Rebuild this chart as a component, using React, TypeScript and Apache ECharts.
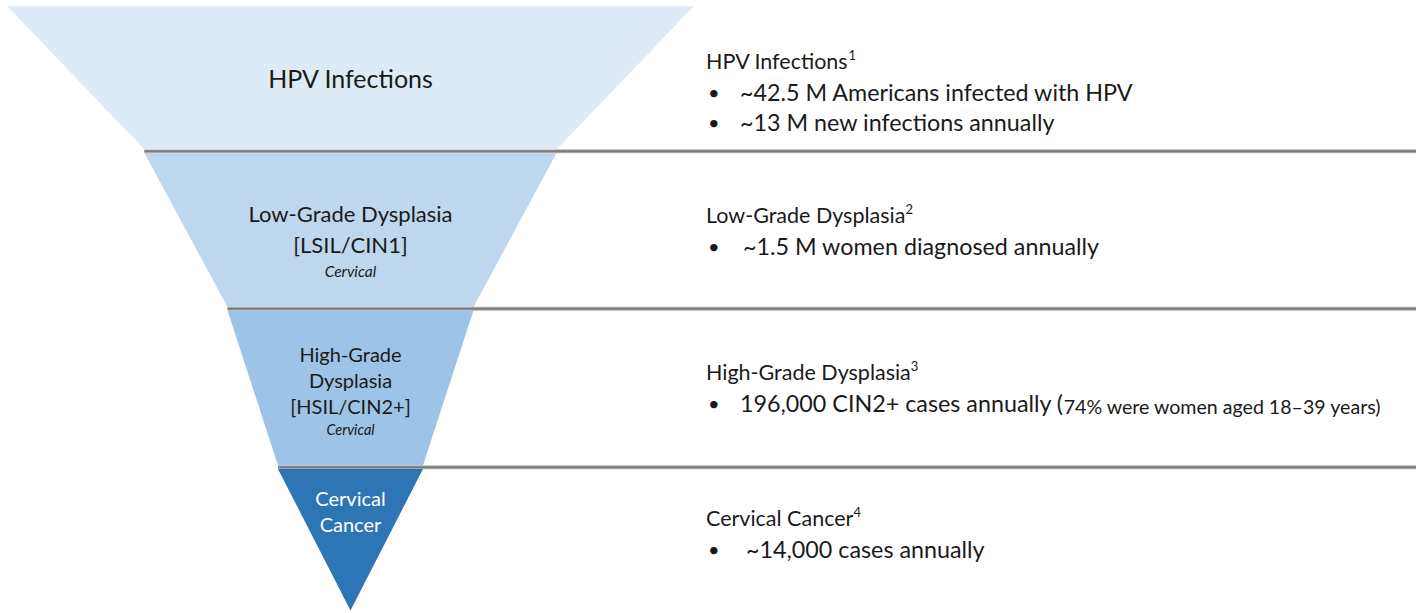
import React, { useEffect, useRef } from "react";
import * as echarts from "echarts";

// ---------- data ----------
const STAGE_NAMES = ["HPV Infections", "Low-Grade Dysplasia", "High-Grade Dysplasia", "Cervical Cancer"];
const STAGE_LABEL_LINES = [
  ["HPV Infections"],
  ["Low-Grade Dysplasia", "[LSIL/CIN1]"],
  ["High-Grade", "Dysplasia", "[HSIL/CIN2+]"],
  ["Cervical", "Cancer"],
];
const STAGE_SUBLABELS = ["", "Cervical", "Cervical", ""];
// relative width of each stage's top edge (top stage = 100)
const STAGE_WIDTHS = [100, 60, 35.8, 21.1];

const NOTE_TITLES = ["HPV Infections", "Low-Grade Dysplasia", "High-Grade Dysplasia", "Cervical Cancer"];
const NOTE_REFS = ["1", "2", "3", "4"];
const NOTE_BULLETS = [
  ["~42.5 M Americans infected with HPV", "~13 M new infections annually"],
  ["~1.5 M women diagnosed annually"],
  ["196,000 CIN2+ cases annually"],
  ["~14,000 cases annually"],
];
const NOTE_ASIDES = ["", "", "74% were women aged 18–39 years", ""];

// ---------- layout / style ----------
const FONT = "Lato, 'Noto Sans', sans-serif";
const TEXT_COLOR = "#1a1a1a";
const STAGE_COLORS = ["#DEEBF7", "#BDD7EE", "#9DC3E6", "#2E75B6"];
const STAGE_TEXT_COLORS = [TEXT_COLOR, TEXT_COLOR, TEXT_COLOR, "#ffffff"];
const STAGE_FONT_SIZES = [25, 22, 20, 20];
const STAGE_LINE_HEIGHTS = [30, 31, 26, 26];
const STAGE_SUB_LINE_HEIGHTS = [0, 23, 20, 0];
const STAGE_SUB_FONT_SIZES = [0, 15.5, 14.5, 0];
const STAGE_LABEL_PADDING = [
  [0, 0, 0, 0],
  [20, 0, 0, 0],
  [4, 0, 0, 0],
  [0, 0, 58, 0],
];
const FUNNEL = { cx: 350.5, top: 6, width: 687, heights: [143.5, 154, 155, 141.5], gap: 3.5 };
const LINE_RIGHT = 1416;

const NOTE_X = 706;
const NOTE_BULLET_X = 708;
const NOTE_TEXT_X = [740, 743, 740, 746];
const NOTE_TITLE_Y = [61, 215, 372, 518];
const NOTE_LINE_STEP = 30.5;
const NOTE_TITLE_FONT_SIZE = 21.5;
const NOTE_FONT_SIZE = 23.3;
const NOTE_ASIDE_FONT_SIZE = 19.6;

function buildStageData() {
  return STAGE_NAMES.map((name, i) => {
    const main = STAGE_LABEL_LINES[i].map((l) => `{m|${l}}`);
    if (STAGE_SUBLABELS[i]) main.push(`{i|${STAGE_SUBLABELS[i]}}`);
    return {
      name,
      value: STAGE_WIDTHS[i],
      itemStyle: { color: STAGE_COLORS[i], height: FUNNEL.heights[i] },
      label: {
        formatter: main.join("\n"),
        padding: STAGE_LABEL_PADDING[i],
        rich: {
          m: {
            fontFamily: FONT,
            fontSize: STAGE_FONT_SIZES[i],
            lineHeight: STAGE_LINE_HEIGHTS[i],
            color: STAGE_TEXT_COLORS[i],
            align: "center",
          },
          i: {
            fontFamily: FONT,
            fontSize: STAGE_SUB_FONT_SIZES[i] || 14,
            fontStyle: "italic",
            lineHeight: STAGE_SUB_LINE_HEIGHTS[i] || 20,
            color: STAGE_TEXT_COLORS[i],
            align: "center",
          },
        },
      },
    };
  });
}

function buildNotes() {
  const els: any[] = [];
  NOTE_TITLES.forEach((title, i) => {
    const y0 = NOTE_TITLE_Y[i];
    els.push({
      type: "text",
      x: NOTE_X,
      y: y0,
      silent: true,
      style: {
        text: `{h|${title}}{s|${NOTE_REFS[i]}}`,
        verticalAlign: "middle",
        align: "left",
        rich: {
          h: { fontFamily: FONT, fontSize: NOTE_TITLE_FONT_SIZE, lineHeight: 26, fill: TEXT_COLOR, color: TEXT_COLOR },
          s: { fontFamily: FONT, fontSize: 13, lineHeight: 16, verticalAlign: "top", fill: TEXT_COLOR, color: TEXT_COLOR },
        },
      },
    });
    NOTE_BULLETS[i].forEach((b, j) => {
      const y = y0 + NOTE_LINE_STEP * (j + 1);
      els.push({
        type: "text",
        x: NOTE_BULLET_X,
        y,
        silent: true,
        style: { text: "•", fontFamily: FONT, fontSize: 20, fill: TEXT_COLOR, verticalAlign: "middle", align: "left" },
      });
      const aside = j === NOTE_BULLETS[i].length - 1 ? NOTE_ASIDES[i] : "";
      const txt = aside ? `{t|${b} (}{a|${aside})}` : `{t|${b}}`;
      els.push({
        type: "text",
        x: NOTE_TEXT_X[i],
        y,
        silent: true,
        style: {
          text: txt,
          verticalAlign: "middle",
          align: "left",
          rich: {
            t: { fontFamily: FONT, fontSize: NOTE_FONT_SIZE, lineHeight: 28, fill: TEXT_COLOR, color: TEXT_COLOR },
            a: { fontFamily: FONT, fontSize: NOTE_ASIDE_FONT_SIZE, lineHeight: 24, verticalAlign: "bottom", fill: TEXT_COLOR, color: TEXT_COLOR },
          },
        },
      });
    });
  });
  return els;
}

function separatorLines(chart: any) {
  const pts: number[][][] = [];
  try {
    const data = chart.getModel().getSeriesByIndex(0).getData();
    for (let i = 0; i < STAGE_NAMES.length; i++) pts.push(data.getItemLayout(i).points);
  } catch (e) {
    let y = FUNNEL.top;
    for (let i = 0; i < STAGE_NAMES.length; i++) {
      const w0 = (STAGE_WIDTHS[i] / 100) * FUNNEL.width;
      const w1 = ((STAGE_WIDTHS[i + 1] || 0) / 100) * FUNNEL.width;
      const h = FUNNEL.heights[i];
      pts.push([
        [FUNNEL.cx - w0 / 2, y],
        [FUNNEL.cx + w0 / 2, y],
        [FUNNEL.cx + w1 / 2, y + h],
        [FUNNEL.cx - w1 / 2, y + h],
      ]);
      y += h + FUNNEL.gap;
    }
  }
  const els: any[] = [];
  for (let i = 0; i < pts.length - 1; i++) {
    const y = (pts[i][3][1] + pts[i + 1][0][1]) / 2;
    const x = pts[i + 1][0][0];
    els.push({
      type: "line",
      silent: true,
      shape: { x1: x, y1: y, x2: LINE_RIGHT, y2: y },
      style: { stroke: "#b4b4b4", lineWidth: 4 },
    });
    els.push({
      type: "line",
      silent: true,
      shape: { x1: x, y1: y, x2: LINE_RIGHT, y2: y },
      style: { stroke: "#7b7b7b", lineWidth: 2 },
    });
  }
  return els;
}

export default function App() {
  const ref = useRef<HTMLDivElement>(null);
  useEffect(() => {
    if (!ref.current) return;
    const chart = echarts.init(ref.current, undefined, { renderer: "svg" });
    const totalHeight =
      FUNNEL.heights.reduce((a, b) => a + b, 0) + FUNNEL.gap * (FUNNEL.heights.length - 1);
    chart.setOption({
      animation: false,
      backgroundColor: "#ffffff",
      series: [
        {
          type: "funnel",
          left: FUNNEL.cx - FUNNEL.width / 2,
          top: FUNNEL.top,
          width: FUNNEL.width,
          height: totalHeight,
          min: 0,
          max: 100,
          minSize: "0%",
          maxSize: "100%",
          sort: "none",
          gap: FUNNEL.gap,
          funnelAlign: "center",
          silent: true,
          itemStyle: { borderWidth: 0 },
          label: { show: true, position: "inside" },
          labelLine: { show: false },
          emphasis: { disabled: true },
          data: buildStageData(),
        },
      ],
    });
    chart.setOption({ graphic: [...separatorLines(chart), ...buildNotes()] });
    return () => chart.dispose();
  }, []);
  return (
    <div
      ref={ref}
      style={{ position: "fixed", left: 0, top: 0, width: 1425, height: 613, background: "#fff" }}
    />
  );
}
